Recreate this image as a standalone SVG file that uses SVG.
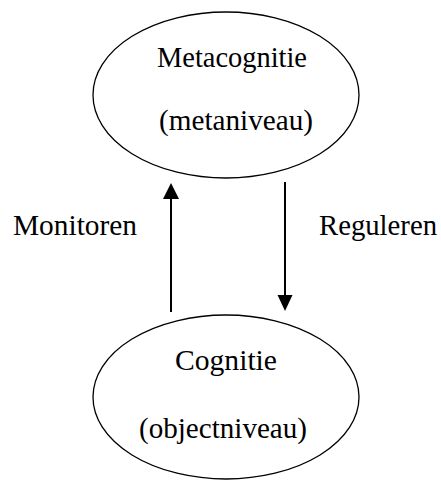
<svg xmlns="http://www.w3.org/2000/svg" width="441" height="480" viewBox="0 0 441 480">
<defs>
<style>
.node ellipse{fill:#fff;stroke:#000;stroke-width:1.3}
text{font-family:"Liberation Serif","Times New Roman",serif;font-size:29px;fill:#000}
.edge line{stroke:#000;stroke-width:2}
</style>
</defs>
<g id="meta" class="node">
<ellipse cx="226" cy="95" rx="133" ry="83"/>
<text x="157" y="67" textLength="150" lengthAdjust="spacingAndGlyphs">Metacognitie</text>
<text x="159" y="130" textLength="154" lengthAdjust="spacingAndGlyphs">(metaniveau)</text>
</g>
<g id="cog" class="node">
<ellipse cx="226" cy="397" rx="133" ry="82"/>
<text x="175" y="370" textLength="102" lengthAdjust="spacingAndGlyphs">Cognitie</text>
<text x="139" y="438" textLength="168" lengthAdjust="spacingAndGlyphs">(objectniveau)</text>
</g>
<g id="labels">
<text x="13" y="235" textLength="124" lengthAdjust="spacingAndGlyphs">Monitoren</text>
<text x="319" y="235" textLength="118" lengthAdjust="spacingAndGlyphs">Reguleren</text>
</g>
<g id="edges" class="edge">
<line x1="171" y1="312" x2="171" y2="199"/>
<path d="M163,199 L171,183 L179,199 Z" fill="#000"/>
<line x1="285" y1="182" x2="285" y2="295"/>
<path d="M277.5,295 L285,311 L292.5,295 Z" fill="#000"/>
</g>
</svg>
